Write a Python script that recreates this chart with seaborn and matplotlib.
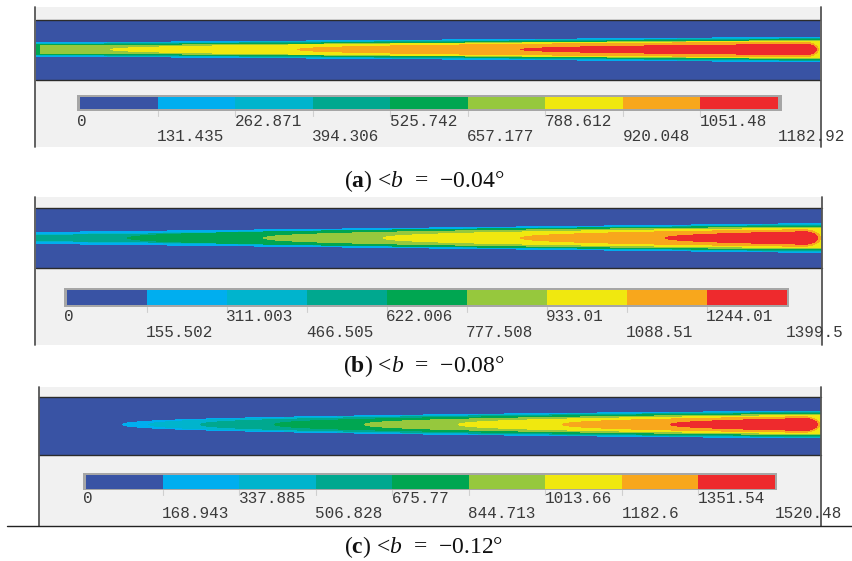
import numpy as np
import matplotlib
matplotlib.use("Agg")
import matplotlib.pyplot as plt
import seaborn as sns
from matplotlib.colors import ListedColormap
from matplotlib.patches import Rectangle

sns.set_theme(style="white")
plt.rcParams['font.family'] = ['Liberation Serif', 'DejaVu Serif']
plt.rcParams['mathtext.fontset'] = 'custom'
plt.rcParams['mathtext.rm'] = 'Liberation Serif'
plt.rcParams['mathtext.it'] = 'Liberation Serif:italic'
plt.rcParams['mathtext.bf'] = 'Liberation Serif:bold'

W, H = 852, 561

# ---------------- data ----------------
level_colors = ["#3953a4", "#00aeef", "#00b4cd", "#00a88f", "#00a651",
                "#96c83d", "#f0e80f", "#f8a71c", "#ee2a2d"]

panel_ids = ["a", "b", "c"]
angles = [-0.04, -0.08, -0.12]

scale_a = [0, 131.435, 262.871, 394.306, 525.742, 657.177, 788.612, 920.048, 1051.48, 1182.92]
scale_b = [0, 155.502, 311.003, 466.505, 622.006, 777.508, 933.01, 1088.51, 1244.01, 1399.5]
scale_c = [0, 168.943, 337.885, 506.828, 675.77, 844.713, 1013.66, 1182.6, 1351.54, 1520.48]

# contour levels 1..8: where each starts along the strip (fraction of length),
# its half width there (px) and its half width at the outlet (px)
start_a = [0.0, 0.0, 0.0, 0.0, 0.005, 0.094, 0.333, 0.617]
hw0_a = [7.0, 6.5, 5.5, 5.0, 4.0, 0.0, 0.0, 0.0]
hw1_a = [12.8, 12.0, 11.3, 10.5, 9.5, 8.7, 8.0, 5.7]

start_b = [0.0, 0.0, 0.0, 0.116, 0.289, 0.441, 0.616, 0.80]
hw0_b = [6.0, 3.8, 3.0, 0.0, 0.0, 0.0, 0.0, 0.0]
hw1_b = [15.0, 14.3, 13.5, 12.5, 11.5, 10.3, 9.0, 7.0]

start_c = [0.106, 0.14, 0.206, 0.30, 0.415, 0.536, 0.669, 0.807]
hw0_c = [0.0, 0.0, 0.0, 0.0, 0.0, 0.0, 0.0, 0.0]
hw1_c = [14.0, 13.3, 12.6, 11.8, 10.8, 9.7, 8.5, 6.7]

# set-back of level end from the outlet (px)
gap_a = [0, 0, 0, 0, 0, 0, 1, 3]
gap_b = [0, 0, 0, 0, 0, 0, 1, 4]
gap_c = [0, 0, 0, 0, 0, 0, 1, 3]

# ---------------- layout (page pixels) ----------------
layout = [
    dict(panel=(35, 7, 821, 147), band=(36, 20, 820, 80), yc=49.5,
         cb_in=(80, 96.7, 778, 109.3), cb_out=(77, 95, 782, 111),
         base=(126, 141), cap=181, vlines=(35, 821)),
    dict(panel=(35, 197, 822, 345), band=(36, 208, 822, 268), yc=238,
         cb_in=(66.7, 290, 786.7, 305), cb_out=(64, 288, 789, 307),
         base=(321, 337), cap=366, vlines=(35, 822)),
    dict(panel=(39, 387, 821, 526), band=(39, 397, 821, 455), yc=424.5,
         cb_in=(86, 474.5, 775, 488.5), cb_out=(83, 472.7, 777, 490),
         base=(503, 518), cap=547, vlines=(39, 821)),
]
scales = [scale_a, scale_b, scale_c]
starts = [start_a, start_b, start_c]
hw0s = [hw0_a, hw0_b, hw0_c]
hw1s = [hw1_a, hw1_b, hw1_c]
gaps = [gap_a, gap_b, gap_c]


def frac_rect(x0, y0, x1, y1):
    return [x0 / W, 1 - y1 / H, (x1 - x0) / W, (y1 - y0) / H]


def plume_field(length, height, yc, start, hw0, hw1, gap):
    xp = np.arange(length) + 0.5
    x = xp / length
    y = np.arange(height) + 0.5
    Z = np.zeros((height, length))
    for k, (t, h0, h1, g) in enumerate(zip(start, hw0, hw1, gap), start=1):
        s = np.clip((x - t) / (1 - t), 0, None)
        p = 1.0 if h0 > 0 else 0.4
        w = np.where(x >= t, h0 + (h1 - h0) * s ** p, 0.0)
        if g > 0:
            xe = length - g
            rx = 2.0 * h1
            u = (xp - (xe - rx)) / rx
            fac = np.where(u > 0, np.sqrt(np.clip(1 - u ** 2, 0, 1)), 1.0)
            w = w * fac
            w[xp > xe] = 0
        mask = np.abs(y[:, None] - yc) < w[None, :]
        Z[mask] = k
    return Z


cmap = ListedColormap(level_colors)

fig = plt.figure(figsize=(W / 100, H / 100), dpi=100)
bg = fig.add_axes([0, 0, 1, 1], zorder=0)
bg.set_xlim(0, W)
bg.set_ylim(H, 0)
bg.set_axis_off()
fg = fig.add_axes([0, 0, 1, 1], zorder=5)
fg.set_xlim(0, W)
fg.set_ylim(H, 0)
fg.set_axis_off()
fg.patch.set_alpha(0)

for i, L in enumerate(layout):
    px0, py0, px1, py1 = L["panel"]
    bg.add_patch(Rectangle((px0, py0), px1 - px0, py1 - py0, facecolor="#f1f1f1", lw=0))

    # contour strip
    bx0, by0, bx1, by1 = L["band"]
    length = int(round(bx1 - bx0))
    height = int(round(by1 - by0))
    Z = plume_field(length, height, L["yc"] - by0, starts[i], hw0s[i], hw1s[i], gaps[i])
    axb = fig.add_axes(frac_rect(bx0, by0, bx1, by1), zorder=1)
    sns.heatmap(Z, ax=axb, cmap=cmap, vmin=-0.5, vmax=8.5, cbar=False,
                xticklabels=False, yticklabels=False, rasterized=True)
    axb.set_axis_off()
    fg.plot([bx0, bx1], [by0, by0], color="#2b2b2b", lw=1.0)
    fg.plot([bx0, bx1], [by1, by1], color="#2b2b2b", lw=1.0)

    # colour scale
    ox0, oy0, ox1, oy1 = L["cb_out"]
    bg.add_patch(Rectangle((ox0, oy0), ox1 - ox0, oy1 - oy0, facecolor="#a6a6a6", lw=0))
    cx0, cy0, cx1, cy1 = L["cb_in"]
    axc = fig.add_axes(frac_rect(cx0, cy0, cx1, cy1), zorder=1)
    sns.heatmap(np.arange(9).reshape(1, 9), ax=axc, cmap=cmap, vmin=-0.5, vmax=8.5,
                cbar=False, xticklabels=False, yticklabels=False)
    axc.set_axis_off()

    vals = scales[i]
    seg = (cx1 - cx0) / 9
    for j, v in enumerate(vals):
        xb = cx0 + j * seg
        if 0 < j < 9:
            fg.plot([xb, xb], [oy1, oy1 + 5], color="#cfcfcf", lw=0.8)
        xt = ox0 + 0.3 if j == 0 else xb - 0.5
        fg.text(xt, L["base"][j % 2], f"{v:g}", ha="left", va="baseline",
                family="Liberation Mono", fontsize=11.5, color="#3a3a3a")

    # frame lines
    for xv in L["vlines"]:
        fg.plot([xv, xv], [py0, py1], color="#555555", lw=1.3)

    # caption
    ang = angles[i]
    sign = "\u2212" if ang < 0 else ""
    fg.text(424, L["cap"],
            f"($\\mathbf{{{panel_ids[i]}}}$) <$b$\u2002=\u2002{sign}{abs(ang):.2f}\u00b0",
            ha="center", va="center", fontsize=17, color="#111111")

fg.plot([7, 852], [526, 526], color="#222222", lw=1.0)

fig.savefig("out.png", dpi=100)
